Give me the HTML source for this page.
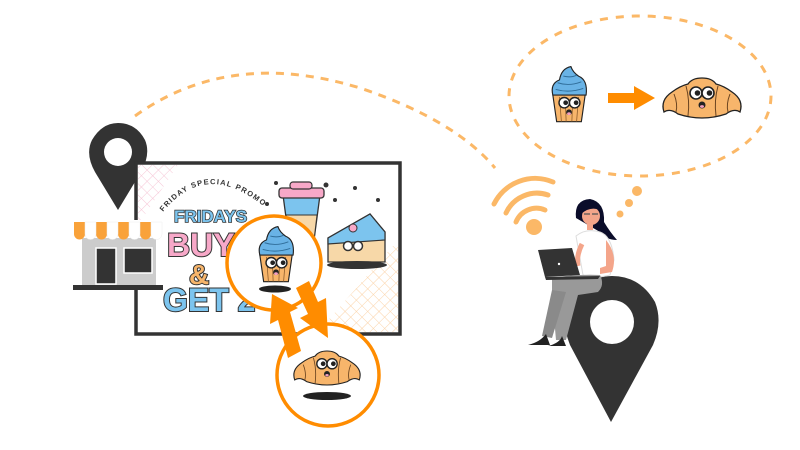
<!DOCTYPE html>
<html><head><meta charset="utf-8"><style>
html,body{margin:0;padding:0;background:#fff;width:800px;height:450px;overflow:hidden}
svg{display:block}
text{font-family:"Liberation Sans",sans-serif;font-weight:900}
</style></head><body>
<svg width="800" height="450" viewBox="0 0 800 450" xmlns="http://www.w3.org/2000/svg">
<defs>
<pattern id="hatchP" width="8" height="8" patternUnits="userSpaceOnUse" patternTransform="rotate(45)">
<path d="M0 0H8M0 0V8" stroke="#f6c6d6" stroke-width="1" fill="none"/></pattern>
<pattern id="hatchO" width="8" height="8" patternUnits="userSpaceOnUse" patternTransform="rotate(45)">
<path d="M0 0H8M0 0V8" stroke="#fbd3a8" stroke-width="1" fill="none"/></pattern>
<g id="cup">
<path d="M-17,-2 Q-20,-14 -10,-18 Q-8,-30 2,-32 Q4,-26 10,-22 Q20,-18 18,-2 Z" fill="#69b3e6" stroke="#222" stroke-width="1.2"/>
<path d="M-14,-8 Q0,-4 15,-9 M-12,-15 Q0,-11 13,-16 M-6,-22 Q2,-20 8,-23" stroke="#2f6d99" stroke-width="1" fill="none"/>
<path d="M-17,-2 L17,-2 L13,26 L-13,26 Z" fill="#f7b56b" stroke="#222" stroke-width="1.2"/>
<path d="M-10,0 L-8,26 M-4,0 L-3,26 M4,0 L3,26 M10,0 L8,26" stroke="#8a5a2a" stroke-width="0.8"/>
<circle cx="-5" cy="6" r="5.5" fill="#fff" stroke="#222" stroke-width="1.5"/>
<circle cx="6" cy="6" r="5.5" fill="#fff" stroke="#222" stroke-width="1.5"/>
<circle cx="-3.5" cy="6" r="2.5" fill="#222"/><circle cx="7.5" cy="6" r="2.5" fill="#222"/>
<ellipse cx="0" cy="16" rx="3" ry="3" fill="#222"/><ellipse cx="0" cy="17.5" rx="2" ry="1.5" fill="#f5a0c0"/>
</g>
<g id="cro">
<path d="M-38,14 Q-42,2 -30,-6 Q-22,-12 -14,-14 Q-10,-20 0,-20 Q10,-20 14,-14 Q22,-12 30,-6 Q42,2 38,14 Q32,10 24,16 Q12,20 0,20 Q-12,20 -24,16 Q-32,10 -38,14 Z" fill="#f7b56b" stroke="#222" stroke-width="1.3"/>
<path d="M-28,-4 Q-24,6 -26,14 M-16,-12 Q-12,2 -14,18 M16,-12 Q12,2 14,18 M28,-4 Q24,6 26,14" stroke="#6b4420" stroke-width="1" fill="none"/>
<circle cx="-6" cy="-5" r="6" fill="#fff" stroke="#222" stroke-width="1.6"/>
<circle cx="6" cy="-5" r="6" fill="#fff" stroke="#222" stroke-width="1.6"/>
<circle cx="-4.5" cy="-5" r="2.8" fill="#222"/><circle cx="7.5" cy="-5" r="2.8" fill="#222"/>
<ellipse cx="0" cy="7" rx="3.5" ry="3.5" fill="#222"/><ellipse cx="0" cy="8.5" rx="2" ry="1.4" fill="#f5a0c0"/>
</g>
</defs>

<path d="M135,116 Q230,48 360,88 Q455,120 495,168" fill="none" stroke="#fbb867" stroke-width="3" stroke-dasharray="8,7"/>
<ellipse cx="640" cy="96" rx="131" ry="80" fill="none" stroke="#fbb867" stroke-width="3" stroke-dasharray="8,8"/>
<use href="#cup" transform="translate(569,97) scale(0.95)"/>
<path d="M608,93 H634 V86 L655,98 L634,110 V103 H608 Z" fill="#ff8c00"/>
<use href="#cro" transform="translate(702,98)"/>
<circle cx="637" cy="191" r="5" fill="#fbb867"/>
<circle cx="629" cy="203" r="4" fill="#fbb867"/>
<circle cx="620" cy="214" r="3.5" fill="#fbb867"/>

<circle cx="534" cy="227" r="8" fill="#fbb867"/>
<path d="M516,222 A22,22 0 0 1 545,210" stroke="#fbb867" stroke-width="5" fill="none" stroke-linecap="round"/>
<path d="M506,213 A34,34 0 0 1 548,195" stroke="#fbb867" stroke-width="5" fill="none" stroke-linecap="round"/>
<path d="M494,204 A46,46 0 0 1 553,182" stroke="#fbb867" stroke-width="5" fill="none" stroke-linecap="round"/>

<path d="M611,422 L570,345 Q560,320 568,302 Q585,276 612,276 Q640,276 655,302 Q663,322 653,345 Z" fill="#333"/>
<circle cx="612" cy="322" r="22" fill="#fff"/>

<!-- woman -->
<path d="M576,218 Q574,200 590,199 Q605,202 604,222 Q610,232 617,240 Q606,240 600,232 Z" fill="#0b0d2a"/>
<circle cx="591" cy="216" r="9" fill="#f4a58a"/>
<path d="M581,214 Q580,200 592,202 Q600,204 600,210 Q590,206 581,214 Z" fill="#0b0d2a"/>
<path d="M584,214 h6 M592,214 h6" stroke="#555" stroke-width="1.2"/>
<rect x="587" y="224" width="6" height="6" fill="#f4a58a"/>
<path d="M576,236 Q586,228 600,232 Q612,236 614,260 L610,275 Q595,279 583,275 Z" fill="#fff" stroke="#ddd" stroke-width="1"/>
<path d="M606,240 Q618,255 612,272 L600,274 L600,268 L606,266 Z" fill="#f4a58a"/>
<path d="M582,244 Q576,256 578,266" stroke="#f4a58a" stroke-width="5" fill="none"/>
<path d="M552,278 Q575,274 600,275 Q605,285 598,292 L578,295 L566,340 L556,340 L552,295 Z" fill="#999"/>
<path d="M552,290 L542,336 L552,338 L566,292 Z" fill="#8a8a8a"/>
<path d="M546,334 Q540,342 528,345 L550,345 Z" fill="#222"/>
<path d="M562,336 Q560,343 548,346 L566,346 Z" fill="#222"/>
<path d="M538,250 L572,248 L580,275 L545,277 Z" fill="#333"/>
<path d="M545,277 L600,276 L598,279 L546,280 Z" fill="#333"/>
<circle cx="559" cy="264" r="1.2" fill="#fff"/>

<path d="M118,210 L95,172 Q85,154 92,140 Q102,123 118,123 Q136,123 145,140 Q151,154 141,172 Z" fill="#333"/>
<circle cx="118" cy="152" r="14" fill="#fff"/>

<rect x="136" y="163" width="264" height="171" fill="#fff" stroke="#333" stroke-width="3.5"/>
<path d="M138,165 L178,165 L138,225 Z" fill="url(#hatchP)"/>
<path d="M398,240 L398,332 L318,332 Z" fill="url(#hatchO)"/>
<path id="arc" d="M163,212 Q205,160 262,205" fill="none"/>
<text font-size="7.5" font-weight="400" fill="#333" letter-spacing="1.2"><textPath href="#arc">FRIDAY SPECIAL PROMO</textPath></text>
<text x="174" y="222" font-size="17" fill="#7cc4ee" stroke="#333" stroke-width="1.5" paint-order="stroke">FRIDAYS</text>
<text x="167" y="256" font-size="32" fill="#f7a8c8" stroke="#333" stroke-width="2" paint-order="stroke">BUY 1</text>
<text x="189" y="284" font-size="28" fill="#f7b56b" stroke="#333" stroke-width="2" paint-order="stroke">&amp;</text>
<text x="163" y="311" font-size="32" fill="#7cc4ee" stroke="#333" stroke-width="2" paint-order="stroke">GET 2</text>
<path d="M283,195 L320,195 L314,240 L289,240 Z" fill="#7cc4ee" stroke="#333" stroke-width="1.3"/>
<path d="M286,215 L317,215 L314,240 L289,240 Z" fill="#f7d8a8" stroke="#333" stroke-width="1"/>
<rect x="279" y="188" width="45" height="10" rx="3" fill="#f7a8c8" stroke="#333" stroke-width="1.3"/>
<rect x="290" y="182" width="22" height="7" rx="3" fill="#f7a8c8" stroke="#333" stroke-width="1.2"/>
<path d="M328,238 L370,214 L385,232 L385,262 L328,262 Z" fill="#f7d8a8" stroke="#333" stroke-width="1.3"/>
<path d="M328,238 L370,214 L385,232 L385,240 L328,244 Z" fill="#7cc4ee" stroke="#333" stroke-width="1.2"/>
<circle cx="353" cy="228" r="4" fill="#f7a8c8" stroke="#333"/>
<ellipse cx="357" cy="265" rx="30" ry="4" fill="#333"/>
<circle cx="348" cy="246" r="4.5" fill="#fff" stroke="#333" stroke-width="1.5"/>
<circle cx="358" cy="246" r="4.5" fill="#fff" stroke="#333" stroke-width="1.5"/>
<g fill="#333"><circle cx="276" cy="183" r="2"/><circle cx="326" cy="185" r="2.5"/><circle cx="355" cy="188" r="2"/><circle cx="267" cy="204" r="2"/><circle cx="335" cy="200" r="2"/><circle cx="378" cy="200" r="2"/></g>

<rect x="82" y="238" width="74" height="48" fill="#ccc"/>
<rect x="96" y="248" width="20" height="36" fill="#333" stroke="#fff" stroke-width="1.5"/>
<rect x="124" y="248" width="28" height="25" fill="#333" stroke="#fff" stroke-width="1.5"/>
<rect x="73" y="285" width="90" height="5" fill="#333"/>
<rect x="76" y="220" width="86" height="10" fill="#fff"/>
<g fill="#f9a23a">
<path d="M74,222 h11 v12 a5.5,5.5 0 0 1 -11,0 Z"/><path d="M96,222 h11 v12 a5.5,5.5 0 0 1 -11,0 Z"/>
<path d="M118,222 h11 v12 a5.5,5.5 0 0 1 -11,0 Z"/><path d="M140,222 h11 v12 a5.5,5.5 0 0 1 -11,0 Z"/>
</g>
<g fill="#fff" stroke="#eee" stroke-width="0.5">
<path d="M85,222 h11 v12 a5.5,5.5 0 0 1 -11,0 Z"/><path d="M107,222 h11 v12 a5.5,5.5 0 0 1 -11,0 Z"/>
<path d="M129,222 h11 v12 a5.5,5.5 0 0 1 -11,0 Z"/><path d="M151,222 h11 v12 a5.5,5.5 0 0 1 -11,0 Z"/>
</g>

<circle cx="274" cy="263" r="47" fill="#fff" stroke="#ff8c00" stroke-width="3.5"/>
<use href="#cup" transform="translate(276,257) scale(0.95)"/>
<ellipse cx="275" cy="289" rx="16" ry="3.5" fill="#222"/>
<circle cx="328" cy="375" r="51" fill="#fff" stroke="#ff8c00" stroke-width="3.5"/>
<use href="#cro" transform="translate(327,368) scale(0.85)"/>
<ellipse cx="327" cy="396" rx="24" ry="4" fill="#222"/>
<g fill="#ff8c00">
<path d="M301,351 L288,358 L278,320 L270,324 L272,294 L298,308 L290,312 Z"/>
<path d="M296,288 L309,281 L318,302 L326,298 L328,338 L300,318 L308,314 Z"/>
</g>
</svg>
</body></html>
